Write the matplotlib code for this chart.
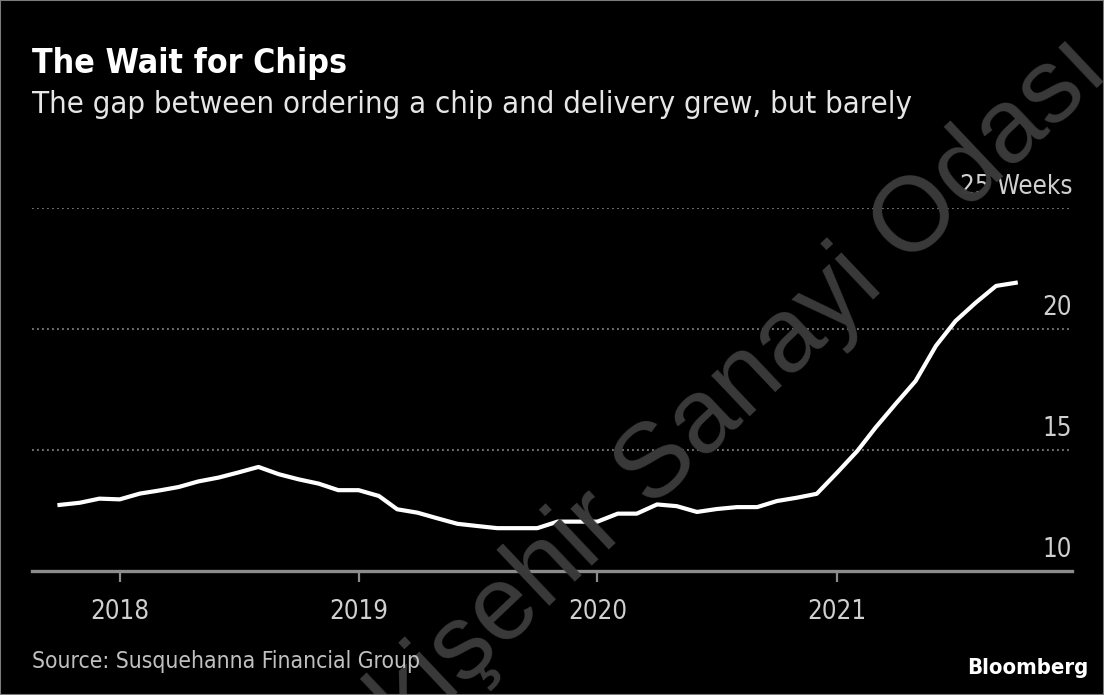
import matplotlib
matplotlib.use("Agg")
import matplotlib.pyplot as plt
import matplotlib.transforms as mtransforms
from matplotlib.patches import Rectangle
import pandas as pd

# monthly lead time for chips, Oct 2017 - Oct 2021
months = pd.date_range("2017-10-01", periods=49, freq="MS")
weeks = [12.73, 12.82, 12.99,
         12.96, 13.20, 13.32, 13.47, 13.70, 13.86, 14.07, 14.30, 14.00, 13.79, 13.61, 13.34,
         13.34, 13.10, 12.55, 12.41, 12.18, 11.95, 11.86, 11.77, 11.77, 11.77, 12.04, 12.04,
         12.04, 12.37, 12.37, 12.75, 12.68, 12.44, 12.56, 12.64, 12.64, 12.89, 13.03, 13.19,
         14.06, 14.96, 15.93, 16.92, 17.85, 19.30, 20.33, 21.09, 21.78, 21.91]

y_ticks = [10, 15, 20, 25]
y_labels = ["10", "15", "20", "25 Weeks"]
year_ticks = ["2018", "2019", "2020", "2021"]

title = "The Wait for Chips"
subtitle = "The gap between ordering a chip and delivery grew, but barely"
source = "Source: Susquehanna Financial Group"

W, H = 1104, 695
fig = plt.figure(figsize=(W / 100, H / 100), dpi=100, facecolor="black")

font = dict(family="DejaVu Sans", stretch="condensed")

# watermark behind the chart
fig.text(696 / W, 1 - 429 / H, "Eskişehir Sanayi Odası", family="Liberation Sans",
         fontsize=76, color="#3a3a3a", rotation=43.4, rotation_mode="anchor",
         ha="center", va="center", zorder=0)

ax = fig.add_axes([32 / W, 124 / H, 1040 / W, 363 / H])
ax.set_facecolor("none")
ax.plot(months, weeks, color="white", lw=3.0, solid_joinstyle="round", zorder=3)

ax.set_ylim(10, 25)
ax.set_xlim(pd.Timestamp("2017-08-20"), pd.Timestamp("2021-12-26"))

for s in ["top", "right", "left"]:
    ax.spines[s].set_visible(False)
ax.spines["bottom"].set_color("#8c8c8c")
ax.spines["bottom"].set_linewidth(2.4)

for v in y_ticks[1:]:
    ax.axhline(v, color="#6e6e6e", lw=1.5, linestyle=(0, (0.9, 1.5)), zorder=1)

ax.set_yticks([])
trans = mtransforms.blended_transform_factory(ax.transAxes, ax.transData)
offset = mtransforms.ScaledTranslation(0, 14 / 100, fig.dpi_scale_trans)
for v, lab in zip(y_ticks, y_labels):
    ax.text(1.0, v, lab, transform=trans + offset, ha="right", va="baseline",
            color="#d0d0d0", fontsize=18.5, **font)

ax.set_xticks([pd.Timestamp(f"{y}-01-01") for y in year_ticks])
ax.set_xticklabels(year_ticks, color="#d0d0d0", fontsize=18.5, **font)
ax.tick_params(axis="x", colors="#8c8c8c", length=8, width=1.6, pad=12, labelcolor="#d0d0d0")

fig.text(32 / W, 1 - 73 / H, title, color="white", fontsize=24.3, weight="bold",
         va="baseline", ha="left", **font)
fig.text(32 / W, 1 - 113 / H, subtitle, color="#e6e6e6", fontsize=22.3,
         va="baseline", ha="left", **font)
fig.text(32 / W, 1 - 668 / H, source, color="#c0c0c0", fontsize=16.4,
         va="baseline", ha="left", **font)
fig.text(1088 / W, 1 - 674 / H, "Bloomberg", color="white", fontsize=15.8, weight="bold",
         va="baseline", ha="right", **font)

fig.patches.append(Rectangle((0, 0), 1, 1, transform=fig.transFigure, fill=False,
                             edgecolor="#7a7a7a", lw=1.5))

fig.savefig("out.png", dpi=100, facecolor="black")
